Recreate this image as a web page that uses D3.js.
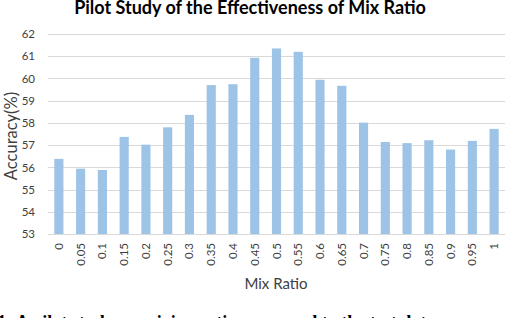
<!DOCTYPE html>
<html>
<head>
<meta charset="utf-8">
<script src="https://cdn.jsdelivr.net/npm/d3@7"></script>
<style>
  body { margin: 0; background: #fff; }
  svg { display: block; }
  text { font-family: Lato, "Open Sans", sans-serif; }
</style>
</head>
<body>
<script>
// data
var ratios = ["0", "0.05", "0.1", "0.15", "0.2", "0.25", "0.3", "0.35", "0.4", "0.45", "0.5",
              "0.55", "0.6", "0.65", "0.7", "0.75", "0.8", "0.85", "0.9", "0.95", "1"];
var accuracy = [56.38, 55.94, 55.88, 57.37, 57.02, 57.8, 58.36, 59.7, 59.74, 60.93, 61.35,
                61.2, 59.94, 59.67, 58.01, 57.14, 57.09, 57.22, 56.8, 57.19, 57.73];
var yTicks = [53, 54, 55, 56, 57, 58, 59, 60, 61, 62];

var W = 514, H = 318;
var margin = { top: 34, right: 9, bottom: 84, left: 48 },
    width = W - margin.left - margin.right,
    height = H - margin.top - margin.bottom;

var svg = d3.select("body").append("svg")
    .attr("width", W)
    .attr("height", H);

var g = svg.append("g")
    .attr("transform", "translate(" + margin.left + "," + margin.top + ")");

var x = d3.scaleBand()
    .domain(ratios)
    .range([0, width])
    .paddingInner(0.58)
    .paddingOuter(0.29);

var y = d3.scaleLinear()
    .domain([53, 62])
    .range([height, 0]);

// gridlines
g.selectAll(".grid")
    .data(yTicks)
    .enter().append("line")
    .attr("x1", 0).attr("x2", width)
    .attr("y1", function (d) { return Math.round(y(d)) + 0.5; })
    .attr("y2", function (d) { return Math.round(y(d)) + 0.5; })
    .attr("stroke", "#d9d9d9")
    .attr("stroke-width", 1);

// y axis labels
var yAxis = g.append("g")
    .call(d3.axisLeft(y).tickValues(yTicks).tickSize(0).tickPadding(13));
yAxis.select(".domain").remove();
yAxis.selectAll("text")
    .attr("font-size", 11.5)
    .attr("fill", "#404040")
    .style("font-family", "Lato, sans-serif");

// bars
g.selectAll(".bar")
    .data(accuracy)
    .enter().append("rect")
    .attr("x", function (d, i) { return x(ratios[i]); })
    .attr("width", x.bandwidth())
    .attr("y", function (d) { return y(d); })
    .attr("height", function (d) { return height - y(d); })
    .attr("fill", "#9dc3e6");

// x axis
var xAxis = g.append("g")
    .attr("transform", "translate(0," + height + ")")
    .call(d3.axisBottom(x).tickSize(0).tickPadding(0));
xAxis.select(".domain").remove();
xAxis.selectAll("text")
    .attr("font-size", 11.5)
    .attr("fill", "#404040")
    .style("font-family", "Lato, sans-serif")
    .attr("transform", "rotate(-90)")
    .attr("text-anchor", "end")
    .attr("dy", "0.35em")
    .attr("x", -9)
    .attr("y", 0);

// axis titles
svg.append("text")
    .attr("x", 276).attr("y", 289)
    .attr("text-anchor", "middle")
    .attr("font-size", 15)
    .attr("fill", "#404040")
    .text("Mix Ratio");

svg.append("text")
    .attr("transform", "translate(17,136) rotate(-90)")
    .attr("text-anchor", "middle")
    .attr("font-size", 16.5)
    .attr("fill", "#404040")
    .text("Accuracy(%)");

// title
svg.append("text")
    .attr("x", 250).attr("y", 13.5)
    .attr("text-anchor", "middle")
    .attr("font-size", 18)
    .attr("font-weight", "bold")
    .attr("fill", "#000")
    .text("Pilot Study of the Effectiveness of Mix Ratio");

// caption cut off at the bottom
svg.append("text")
    .attr("x", -58).attr("y", 327.5)
    .attr("font-size", 18)
    .attr("font-weight", "bold")
    .style("font-family", "'Liberation Serif', serif")
    .attr("fill", "#000")
    .text("Figure 1: A pilot study on mixing ratio compared to the test data");
</script>
</body>
</html>
